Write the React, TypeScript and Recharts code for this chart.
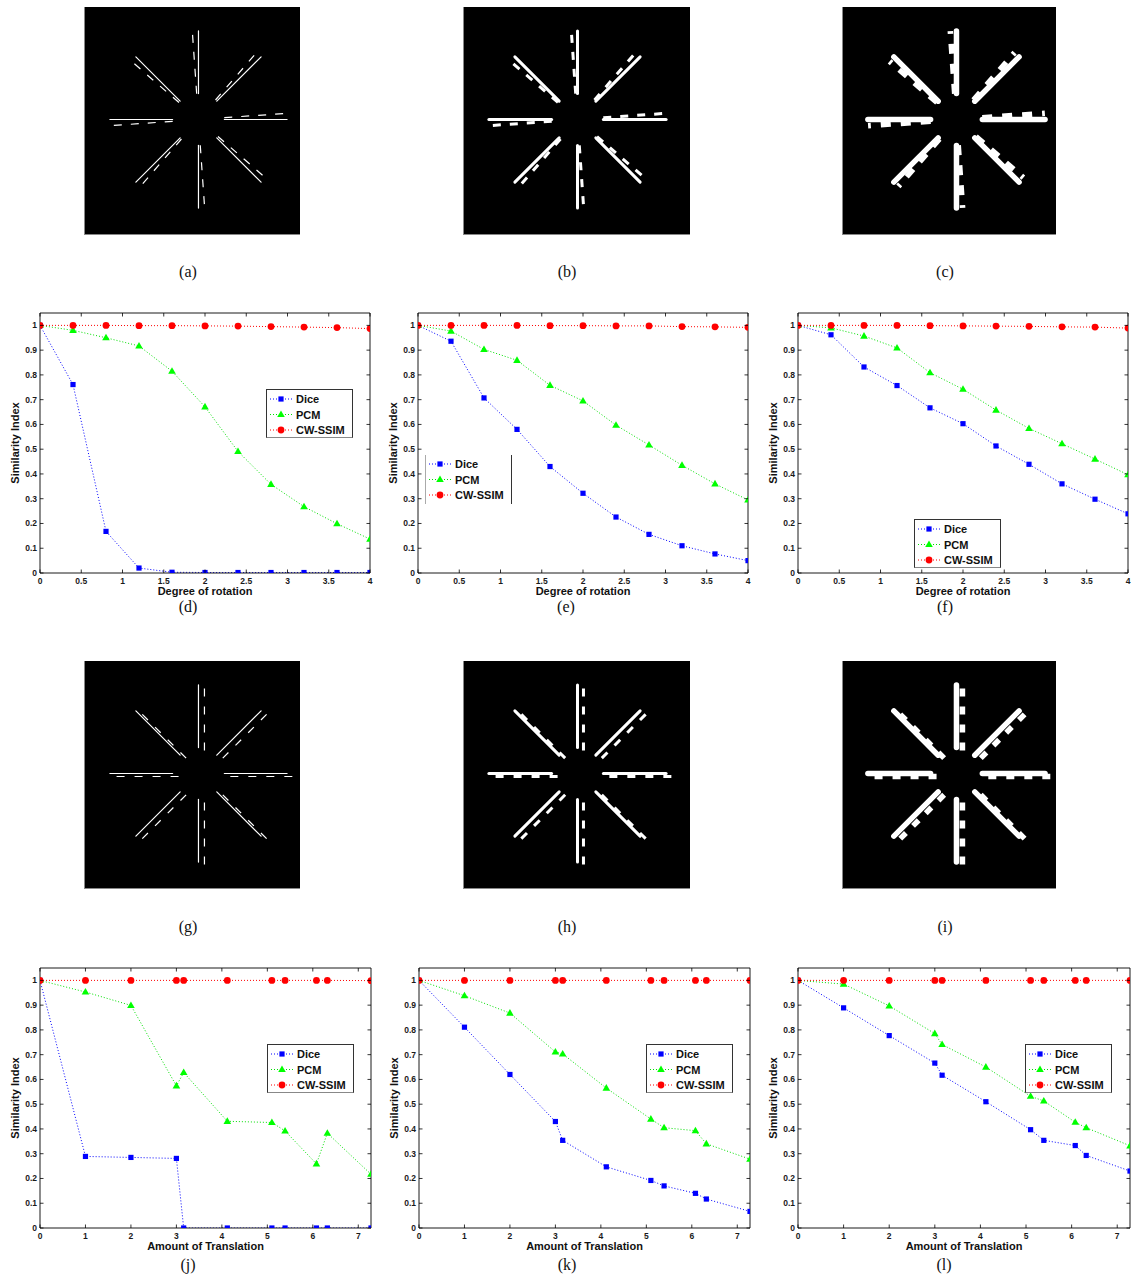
import React from 'react';
import { LineChart, Line, XAxis, YAxis, Legend } from 'recharts';

const FONT = '"Liberation Sans", Arial, Helvetica, sans-serif';
const SERIF = '"Liberation Serif", "Times New Roman", serif';

// ---------- data ----------
const ROTATION_X = [0, 0.4, 0.8, 1.2, 1.6, 2, 2.4, 2.8, 3.2, 3.6, 4];
const TRANSLATION_X = [0, 1, 2, 3, 3.16, 4.12, 5.1, 5.39, 6.08, 6.32, 7.28];
const ROTATION_TICKS = [0, 0.5, 1, 1.5, 2, 2.5, 3, 3.5, 4];
const TRANSLATION_TICKS = [0, 1, 2, 3, 4, 5, 6, 7];
const Y_TICKS = [0, 0.1, 0.2, 0.3, 0.4, 0.5, 0.6, 0.7, 0.8, 0.9, 1];

const D_DICE = [1, 0.761, 0.168, 0.02, 0.003, 0.002, 0.002, 0.002, 0.002, 0.002, 0.002];
const D_PCM = [1, 0.98, 0.95, 0.917, 0.815, 0.671, 0.491, 0.358, 0.268, 0.199, 0.137];
const D_CWSSIM = [1, 1, 1, 0.999, 0.999, 0.998, 0.997, 0.995, 0.993, 0.991, 0.987];

const E_DICE = [1, 0.936, 0.707, 0.58, 0.43, 0.322, 0.226, 0.156, 0.11, 0.077, 0.05];
const E_PCM = [1, 0.977, 0.903, 0.859, 0.758, 0.695, 0.597, 0.517, 0.435, 0.36, 0.295];
const E_CWSSIM = [1, 1, 1, 1, 0.999, 0.999, 0.998, 0.998, 0.995, 0.994, 0.992];

const F_DICE = [1, 0.962, 0.832, 0.757, 0.667, 0.603, 0.513, 0.439, 0.36, 0.298, 0.239];
const F_PCM = [1, 0.99, 0.957, 0.909, 0.809, 0.742, 0.658, 0.584, 0.522, 0.46, 0.397];
const F_CWSSIM = [1, 1, 1, 1, 0.999, 0.998, 0.997, 0.996, 0.994, 0.993, 0.989];

const J_DICE = [1, 0.289, 0.285, 0.281, 0, 0, 0, 0, 0, 0, 0];
const J_PCM = [1, 0.953, 0.899, 0.574, 0.628, 0.431, 0.426, 0.392, 0.259, 0.383, 0.217];
const J_CWSSIM = [1, 1, 1, 1, 1, 1, 1, 1, 1, 1, 0.999];

const K_DICE = [1, 0.811, 0.62, 0.43, 0.354, 0.247, 0.192, 0.17, 0.14, 0.117, 0.067];
const K_PCM = [1, 0.938, 0.868, 0.711, 0.703, 0.565, 0.44, 0.405, 0.393, 0.34, 0.278];
const K_CWSSIM = [1, 1, 1, 1, 1, 1, 1, 1, 1, 1, 1];

const L_DICE = [1, 0.889, 0.777, 0.666, 0.617, 0.51, 0.397, 0.354, 0.333, 0.293, 0.23];
const L_PCM = [1, 0.985, 0.897, 0.785, 0.741, 0.65, 0.532, 0.513, 0.427, 0.405, 0.332];
const L_CWSSIM = [1, 1, 1, 1, 1, 1, 1, 1, 1, 1, 1];

const SERIES_NAMES = ['Dice', 'PCM', 'CW-SSIM'];
const SERIES_COLORS = ['#0000ff', '#00e000', '#ff0000'];

// star test images: arm segments (solid reference and dashed deformed copy)
type Pt = { x: number; y: number };
const SOLID_ARMS: Pt[][] = [
  [{ x: 0, y: 26 }, { x: 0, y: 89 }],
  [{ x: 18.4, y: 18.4 }, { x: 62.9, y: 62.9 }],
  [{ x: 26, y: 0 }, { x: 89, y: 0 }],
  [{ x: 18.4, y: -18.4 }, { x: 62.9, y: -62.9 }],
  [{ x: 0, y: -26 }, { x: 0, y: -89 }],
  [{ x: -18.4, y: -18.4 }, { x: -62.9, y: -62.9 }],
  [{ x: -26, y: 0 }, { x: -89, y: 0 }],
  [{ x: -18.4, y: 18.4 }, { x: -62.9, y: 62.9 }],
];
const ROTATED_ARMS: Pt[][] = [
  [{ x: -1.8, y: 25.9 }, { x: -6.2, y: 88.8 }],
  [{ x: 17.1, y: 19.6 }, { x: 58.4, y: 67.2 }],
  [{ x: 25.9, y: 1.8 }, { x: 88.8, y: 6.2 }],
  [{ x: 19.6, y: -17.1 }, { x: 67.2, y: -58.4 }],
  [{ x: 1.8, y: -25.9 }, { x: 6.2, y: -88.8 }],
  [{ x: -17.1, y: -19.6 }, { x: -58.4, y: -67.2 }],
  [{ x: -25.9, y: -1.8 }, { x: -88.8, y: -6.2 }],
  [{ x: -19.6, y: 17.1 }, { x: -67.2, y: 58.4 }],
];
const SHIFTED_ARMS: Pt[][] = [
  [{ x: 6, y: 23 }, { x: 6, y: 86 }],
  [{ x: 24.4, y: 15.4 }, { x: 68.9, y: 59.9 }],
  [{ x: 32, y: -3 }, { x: 95, y: -3 }],
  [{ x: 24.4, y: -21.4 }, { x: 68.9, y: -65.9 }],
  [{ x: 6, y: -29 }, { x: 6, y: -92 }],
  [{ x: -12.4, y: -21.4 }, { x: -56.9, y: -65.9 }],
  [{ x: -20, y: -3 }, { x: -83, y: -3 }],
  [{ x: -12.4, y: 15.4 }, { x: -56.9, y: 59.9 }],
];

// ---------- marks ----------
const SquareDot = (p: any) => {
  if (p.cx == null || p.cy == null) return <g key={p.key} />;
  return <rect key={p.key} x={p.cx - 2.6} y={p.cy - 2.6} width={5.2} height={5.2} fill="#0000ff" />;
};
const TriangleDot = (p: any) => {
  if (p.cx == null || p.cy == null) return <g key={p.key} />;
  const { cx, cy } = p;
  return (
    <polygon
      key={p.key}
      points={`${cx},${cy - 4} ${cx + 3.8},${cy + 2.6} ${cx - 3.8},${cy + 2.6}`}
      fill="#00ff00"
    />
  );
};
const CircleDot = (p: any) => {
  if (p.cx == null || p.cy == null) return <g key={p.key} />;
  return <circle key={p.key} cx={p.cx} cy={p.cy} r={3.4} fill="#ff0000" />;
};

const fmt = (v: number) => String(v);

const BottomTick = (p: any) => {
  const { x, y, payload } = p;
  return (
    <g>
      <line x1={x} x2={x} y1={y} y2={y - 3.5} stroke="#000" strokeWidth={0.8} />
      <text x={x} y={y + 7.5} textAnchor="middle" dominantBaseline="central" fontSize={8.5} fontWeight="bold" fontFamily={FONT} fill="#1a1a1a">
        {fmt(payload.value)}
      </text>
    </g>
  );
};
const TopTick = (p: any) => {
  const { x, y } = p;
  return <line x1={x} x2={x} y1={y} y2={y + 3.5} stroke="#000" strokeWidth={0.8} />;
};
const LeftTick = (p: any) => {
  const { x, y, payload } = p;
  return (
    <g>
      <line x1={x} x2={x + 3.5} y1={y} y2={y} stroke="#000" strokeWidth={0.8} />
      <text x={x - 3} y={y} textAnchor="end" dominantBaseline="central" fontSize={8.5} fontWeight="bold" fontFamily={FONT} fill="#1a1a1a">
        {fmt(payload.value)}
      </text>
    </g>
  );
};
const RightTick = (p: any) => {
  const { x, y } = p;
  return <line x1={x} x2={x - 3.5} y1={y} y2={y} stroke="#000" strokeWidth={0.8} />;
};

const XTitle = (p: any) => {
  const vb = p.viewBox || { x: 0, y: 0, width: 0, height: 0 };
  return (
    <text x={vb.x + vb.width / 2} y={vb.y + 18} textAnchor="middle" dominantBaseline="central" fontSize={11} fontWeight="bold" fontFamily={FONT} fill="#111">
      {p.text}
    </text>
  );
};
const YTitle = (p: any) => {
  const vb = p.viewBox || { x: 0, y: 0, width: 0, height: 0 };
  const cx = vb.x + vb.width - 25;
  const cy = vb.y + vb.height / 2;
  return (
    <text x={cx} y={cy} transform={`rotate(-90 ${cx} ${cy})`} textAnchor="middle" dominantBaseline="central" fontSize={11} fontWeight="bold" fontFamily={FONT} fill="#111">
      Similarity Index
    </text>
  );
};

const LegendBox = (p: any) => {
  const open = !!p.open;
  const rows = [10, 25.5, 41];
  const dots = [
    (cx: number, cy: number) => <rect x={cx - 2.6} y={cy - 2.6} width={5.2} height={5.2} fill="#0000ff" />,
    (cx: number, cy: number) => <polygon points={`${cx},${cy - 4} ${cx + 3.8},${cy + 2.6} ${cx - 3.8},${cy + 2.6}`} fill="#00ff00" />,
    (cx: number, cy: number) => <circle cx={cx} cy={cy} r={3.4} fill="#ff0000" />,
  ];
  return (
    <div
      style={{
        width: 87,
        height: 49,
        boxSizing: 'border-box',
        background: '#fff',
        borderTop: open ? 'none' : '1px solid #333',
        borderBottom: open ? 'none' : '1px solid #888',
        borderLeft: open ? '1px solid #aaa' : '1px solid #333',
        borderRight: '1px solid #333',
      }}
    >
      <svg width={85} height={47} style={{ display: 'block' }}>
        {SERIES_NAMES.map((name, i) => (
          <g key={name}>
            <line x1={3} x2={25} y1={rows[i] - 1} y2={rows[i] - 1} stroke={SERIES_COLORS[i]} strokeWidth={1} strokeDasharray="1 2" />
            {dots[i](14, rows[i] - 1)}
            <text x={29} y={rows[i] - 1} dominantBaseline="central" fontSize={11} fontWeight="bold" fontFamily={FONT} fill="#111">
              {name}
            </text>
          </g>
        ))}
      </svg>
    </div>
  );
};

type PlotProps = {
  left: number;
  top: number;
  width: number;
  height: number;
  margin: { top: number; right: number; bottom: number; left: number };
  xs: number[];
  dice: number[];
  pcm: number[];
  cw: number[];
  xMax: number;
  xTicks: number[];
  xTitle: string;
  legendLeft: number;
  legendTop: number;
  legendOpen?: boolean;
};

function PlotPanel(p: PlotProps) {
  const data = p.xs.map((x, i) => ({ x, dice: p.dice[i], pcm: p.pcm[i], cw: p.cw[i] }));
  // axes are 1px thick boxes; margins shrink by 1 so the plot box keeps its place
  const m = { top: p.margin.top - 1, bottom: p.margin.bottom - 1, left: p.margin.left - 1, right: p.margin.right - 1 };
  return (
    <div style={{ position: 'absolute', left: p.left, top: p.top, width: p.width, height: p.height }}>
      <LineChart width={p.width} height={p.height} data={data} margin={m}>
        <XAxis
          xAxisId="b"
          type="number"
          dataKey="x"
          domain={[0, p.xMax]}
          ticks={p.xTicks}
          interval={0}
          allowDataOverflow
          height={1}
          tickSize={0}
          tickMargin={0}
          tickLine={false}
          axisLine={{ stroke: '#000', strokeWidth: 0.9 }}
          tick={<BottomTick />}
          label={<XTitle text={p.xTitle} />}
        />
        <XAxis
          xAxisId="t"
          orientation="top"
          type="number"
          dataKey="x"
          domain={[0, p.xMax]}
          ticks={p.xTicks}
          interval={0}
          allowDataOverflow
          height={1}
          tickSize={0}
          tickMargin={0}
          tickLine={false}
          axisLine={{ stroke: '#000', strokeWidth: 0.9 }}
          tick={<TopTick />}
        />
        <YAxis
          yAxisId="l"
          type="number"
          domain={[0, 1.05]}
          ticks={Y_TICKS}
          interval={0}
          allowDataOverflow
          width={1}
          tickSize={0}
          tickMargin={0}
          tickLine={false}
          axisLine={{ stroke: '#000', strokeWidth: 0.9 }}
          tick={<LeftTick />}
          label={<YTitle />}
        />
        <YAxis
          yAxisId="r"
          orientation="right"
          type="number"
          domain={[0, 1.05]}
          ticks={Y_TICKS}
          interval={0}
          allowDataOverflow
          width={1}
          tickSize={0}
          tickMargin={0}
          tickLine={false}
          axisLine={{ stroke: '#000', strokeWidth: 0.9 }}
          tick={<RightTick />}
        />
        <Line xAxisId="b" yAxisId="l" type="linear" dataKey="dice" name="Dice" stroke="#0000ff" strokeWidth={1} strokeDasharray="1 2" dot={SquareDot} activeDot={false} isAnimationActive={false} />
        <Line xAxisId="b" yAxisId="l" type="linear" dataKey="pcm" name="PCM" stroke="#00e000" strokeWidth={1} strokeDasharray="1 2" dot={TriangleDot} activeDot={false} isAnimationActive={false} />
        <Line xAxisId="b" yAxisId="l" type="linear" dataKey="cw" name="CW-SSIM" stroke="#ff0000" strokeWidth={1} strokeDasharray="1 2" dot={CircleDot} activeDot={false} isAnimationActive={false} />
        <Legend
          layout="vertical"
          align="center"
          verticalAlign="middle"
          wrapperStyle={{ left: p.legendLeft, top: p.legendTop, width: 87, height: 49, margin: 0, padding: 0 }}
          content={<LegendBox open={p.legendOpen} />}
        />
      </LineChart>
    </div>
  );
}

type StarProps = {
  left: number;
  top: number;
  width: number;
  height: number;
  centerX: number;
  centerY: number;
  dashed: Pt[][];
  lineWidth: number;
  dash: string;
};

function StarImage(p: StarProps) {
  return (
    <div style={{ position: 'absolute', left: p.left, top: p.top, width: p.width, height: p.height, background: '#000', borderLeft: '1px solid #888', borderBottom: '1px solid #888', boxSizing: 'border-box' }}>
      <LineChart width={p.width - 1} height={p.height - 1} margin={{ top: 0, right: 0, bottom: 0, left: 0 }}>
        <XAxis type="number" dataKey="x" domain={[-p.centerX, p.width - p.centerX]} allowDataOverflow hide height={0} />
        <YAxis type="number" domain={[-(p.height - p.centerY), p.centerY]} allowDataOverflow hide width={0} />
        {SOLID_ARMS.map((seg, i) => (
          <Line key={'s' + i} data={seg} dataKey="y" type="linear" stroke="#ffffff" strokeWidth={p.lineWidth} dot={false} activeDot={false} isAnimationActive={false} strokeLinecap="round" />
        ))}
        {p.dashed.map((seg, i) => (
          <Line key={'d' + i} data={seg} dataKey="y" type="linear" stroke="#ffffff" strokeWidth={p.lineWidth} strokeDasharray={p.dash} dot={false} activeDot={false} isAnimationActive={false} />
        ))}
      </LineChart>
    </div>
  );
}

const Caption = ({ cx, cy, text }: { cx: number; cy: number; text: string }) => (
  <div style={{ position: 'absolute', left: cx - 30, top: cy - 9, width: 60, height: 18, lineHeight: '18px', textAlign: 'center', fontFamily: SERIF, fontSize: 16, color: '#111' }}>
    {text}
  </div>
);

export default function App() {
  const rowTopMargin = { top: 13, bottom: 47 };
  return (
    <div style={{ position: 'absolute', left: 0, top: 0, width: 1131, height: 1275, background: '#fff', overflow: 'hidden' }}>
      {/* row 1: rotation images */}
      <StarImage left={84} top={7} width={216} height={228} centerX={114} centerY={113} dashed={ROTATED_ARMS} lineWidth={1.2} dash="8 9" />
      <StarImage left={463} top={7} width={227} height={228} centerX={114} centerY={113} dashed={ROTATED_ARMS} lineWidth={3} dash="8 9" />
      <StarImage left={842} top={7} width={214} height={228} centerX={114} centerY={113} dashed={ROTATED_ARMS} lineWidth={5.5} dash="10 10" />
      <Caption cx={188} cy={272} text="(a)" />
      <Caption cx={567} cy={272} text="(b)" />
      <Caption cx={945} cy={272} text="(c)" />

      {/* row 2: rotation plots */}
      <PlotPanel left={0} top={300} width={380} height={320} margin={{ ...rowTopMargin, left: 40, right: 10 }} xs={ROTATION_X} dice={D_DICE} pcm={D_PCM} cw={D_CWSSIM} xMax={4} xTicks={ROTATION_TICKS} xTitle="Degree of rotation" legendLeft={266} legendTop={89} />
      <PlotPanel left={380} top={300} width={380} height={320} margin={{ ...rowTopMargin, left: 38, right: 12 }} xs={ROTATION_X} dice={E_DICE} pcm={E_PCM} cw={E_CWSSIM} xMax={4} xTicks={ROTATION_TICKS} xTitle="Degree of rotation" legendLeft={45} legendTop={155} legendOpen />
      <PlotPanel left={760} top={300} width={371} height={320} margin={{ ...rowTopMargin, left: 38, right: 3 }} xs={ROTATION_X} dice={F_DICE} pcm={F_PCM} cw={F_CWSSIM} xMax={4} xTicks={ROTATION_TICKS} xTitle="Degree of rotation" legendLeft={154} legendTop={219} />
      <Caption cx={188} cy={607} text="(d)" />
      <Caption cx={566} cy={607} text="(e)" />
      <Caption cx={945} cy={607} text="(f)" />

      {/* row 3: translation images */}
      <StarImage left={84} top={661} width={216} height={228} centerX={114} centerY={113} dashed={SHIFTED_ARMS} lineWidth={1.2} dash="8 10" />
      <StarImage left={463} top={661} width={227} height={228} centerX={114} centerY={113} dashed={SHIFTED_ARMS} lineWidth={3} dash="8 10" />
      <StarImage left={842} top={661} width={214} height={228} centerX={114} centerY={113} dashed={SHIFTED_ARMS} lineWidth={5.5} dash="8 10" />
      <Caption cx={188} cy={927} text="(g)" />
      <Caption cx={567} cy={927} text="(h)" />
      <Caption cx={945} cy={927} text="(i)" />

      {/* row 4: translation plots */}
      <PlotPanel left={0} top={955} width={380} height={320} margin={{ ...rowTopMargin, left: 40, right: 9 }} xs={TRANSLATION_X} dice={J_DICE} pcm={J_PCM} cw={J_CWSSIM} xMax={7.28} xTicks={TRANSLATION_TICKS} xTitle="Amount of Translation" legendLeft={267} legendTop={89} />
      <PlotPanel left={380} top={955} width={380} height={320} margin={{ ...rowTopMargin, left: 39, right: 10 }} xs={TRANSLATION_X} dice={K_DICE} pcm={K_PCM} cw={K_CWSSIM} xMax={7.28} xTicks={TRANSLATION_TICKS} xTitle="Amount of Translation" legendLeft={266} legendTop={89} />
      <PlotPanel left={760} top={955} width={371} height={320} margin={{ ...rowTopMargin, left: 38, right: 1 }} xs={TRANSLATION_X} dice={L_DICE} pcm={L_PCM} cw={L_CWSSIM} xMax={7.28} xTicks={TRANSLATION_TICKS} xTitle="Amount of Translation" legendLeft={265} legendTop={89} />
      <Caption cx={188} cy={1265} text="(j)" />
      <Caption cx={567} cy={1265} text="(k)" />
      <Caption cx={944} cy={1265} text="(l)" />
    </div>
  );
}
